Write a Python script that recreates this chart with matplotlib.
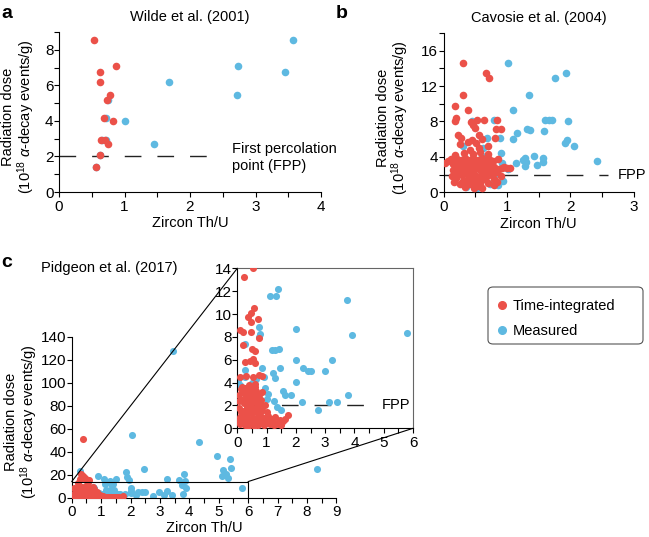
import matplotlib
matplotlib.use("Agg")
import matplotlib.pyplot as plt
from matplotlib.patches import ConnectionPatch, FancyBboxPatch
from matplotlib.lines import Line2D
from matplotlib.ticker import MultipleLocator

plt.rcParams['font.family'] = ['Liberation Sans', 'DejaVu Sans']
plt.rcParams['mathtext.fontset'] = 'custom'
plt.rcParams['mathtext.rm'] = 'Liberation Sans'
plt.rcParams['mathtext.it'] = 'Liberation Sans:italic'
plt.rcParams['font.size'] = 10.5

ROJO = '#EB5149'
AZUL = '#5EB9E1'

# Panel a - Wilde et al. (2001)
a_tiempo_x = [0.54, 0.87, 0.63, 0.63, 0.78, 0.74, 0.68, 0.83, 0.64, 0.70, 0.75, 0.62, 0.56]
a_tiempo_y = [8.57, 7.09, 6.76, 6.16, 5.46, 5.20, 4.15, 4.00, 2.94, 2.90, 2.71, 2.06, 1.40]
a_medido_x = [3.58, 2.73, 3.45, 1.68, 2.72, 0.75, 0.72, 1.01, 0.66, 0.72, 1.45, 0.62, 0.57]
a_medido_y = [8.57, 7.09, 6.76, 6.16, 5.46, 5.20, 4.15, 4.00, 2.94, 2.90, 2.71, 2.06, 1.40]

# Panel b - Cavosie et al. (2004)
b_tiempo_x = [0.30, 0.67, 0.72, 0.30, 0.18, 0.39, 0.19, 0.18, 0.52, 0.63, 0.84, 0.43, 0.47,
              0.50, 0.82, 0.905, 0.22, 0.27, 0.81, 0.55, 0.60, 0.45, 0.38, 0.25, 0.51, 0.02,
              0.07, 1.05, 1.00, 0.92, 0.70,
              0.12, 0.15, 0.14, 0.13, 0.16, 0.20, 0.22, 0.21, 0.23, 0.20, 0.25, 0.27, 0.28,
              0.30, 0.29, 0.31, 0.33, 0.34, 0.35, 0.36, 0.37, 0.38, 0.40, 0.41, 0.42, 0.44,
              0.43, 0.45, 0.47, 0.48, 0.50, 0.49, 0.51, 0.53, 0.54, 0.55, 0.57, 0.56, 0.58,
              0.60, 0.61, 0.63, 0.62, 0.64, 0.66, 0.67, 0.69, 0.68, 0.70, 0.72, 0.74, 0.75,
              0.76, 0.78, 0.80, 0.82, 0.79, 0.85, 0.84, 0.88, 0.18, 0.32, 0.46, 0.58, 0.70,
              0.42, 0.55, 0.30, 0.60, 0.48, 0.80, 0.90, 0.95]
b_tiempo_y = [14.56, 13.5, 12.97, 11.0, 9.74, 9.28, 8.4, 8.0, 8.2, 8.17, 8.2, 7.9, 7.6,
              7.3, 7.17, 7.17, 6.52, 6.14, 6.14, 6.5, 6.0, 5.9, 5.7, 5.5, 5.6, 3.3,
              3.5, 2.7, 2.7, 2.8, 5.2,
              3.8, 3.2, 2.5, 1.8, 1.2, 3.9, 3.4, 2.9, 2.2, 1.6, 0.9, 3.7, 3.0,
              2.5, 1.9, 1.3, 0.6, 3.9, 3.3, 2.8, 2.1, 1.5, 0.9, 3.6, 3.0, 2.4,
              1.8, 1.1, 3.9, 3.3, 2.7, 2.0, 1.4, 0.7, 3.7, 3.1, 2.5, 1.7, 1.0,
              3.9, 3.3, 2.8, 2.2, 1.5, 3.6, 3.0, 2.4, 1.8, 1.1, 3.8, 3.2, 2.6,
              2.0, 3.5, 2.9, 2.3, 1.5, 3.8, 1.2, 2.6, 4.2, 4.4, 4.3, 4.5, 4.3,
              4.8, 5.0, 2.2, 0.5, 0.5, 0.8, 1.8, 2.9]
b_medido_x = [1.01, 1.76, 1.93, 1.34, 1.09, 1.60, 1.66, 1.71, 1.97, 1.31, 1.37, 1.59, 1.16,
              1.10, 1.95, 1.92, 2.06, 2.42, 0.79, 0.89, 0.905, 1.14, 1.26, 1.29, 1.30, 1.29,
              1.43, 1.57, 1.57, 1.47, 0.73, 0.94, 0.52, 0.25, 0.35, 0.62, 0.68, 0.30, 0.60,
              0.80, 0.92, 1.02, 0.45, 0.85]
b_medido_y = [14.56, 12.97, 13.5, 11.0, 9.28, 8.22, 8.2, 8.2, 8.06, 7.1, 7.05, 6.96, 6.7,
              6.0, 5.9, 5.6, 5.27, 3.56, 8.2, 6.14, 4.4, 3.3, 3.67, 3.86, 3.48, 3.0,
              4.05, 3.86, 3.48, 3.1, 0.95, 1.28, 0.54, 2.9, 0.6, 5.0, 6.1, 5.2, 4.1,
              2.0, 3.3, 2.6, 8.0, 0.8]

# Panel c - Pidgeon et al. (2017)
c_tiempo_x = [0.55, 0.23, 0.56, 0.47, 0.35, 0.47, 0.72, 0.09, 0.18, 0.47, 0.75, 0.20, 0.50,
              0.60, 0.25, 0.45, 0.60, 0.52, 0.10, 0.30, 0.55, 0.75, 0.85,
              0.05, 0.08, 0.10, 0.12, 0.15, 0.18, 0.20, 0.22, 0.24, 0.26, 0.28, 0.30, 0.32,
              0.33, 0.35, 0.37, 0.38, 0.40, 0.42, 0.44, 0.46, 0.47, 0.48, 0.50, 0.52, 0.53,
              0.55, 0.57, 0.58, 0.60, 0.62, 0.63, 0.65, 0.67, 0.68, 0.70, 0.72, 0.74, 0.76,
              0.78, 0.80, 0.82, 0.85, 0.88, 0.90, 0.03, 0.07, 0.14, 0.42, 0.60,
              0.95, 1.00, 1.05, 1.10, 1.20, 1.25, 1.30, 1.35, 1.45, 1.50, 1.55, 1.74, 1.00, 0.95,
              0.16, 0.26, 0.36, 0.46, 0.56, 0.66, 0.76, 0.86, 0.12, 0.22, 0.32, 0.42, 0.52,
              0.62, 0.72, 0.82, 0.06, 0.16, 0.26, 0.36, 0.46, 0.56, 0.66, 0.76, 0.30, 0.50,
              0.70, 0.40, 0.60, 0.85, 0.15, 1.15, 1.40, 1.62,
              0.40, 0.32, 0.38, 0.45, 0.50, 0.28, 0.60]
c_tiempo_y = [14.0, 13.2, 10.5, 10.06, 9.7, 9.3, 9.6, 8.6, 8.4, 8.4, 7.9, 7.3, 6.9,
              6.8, 5.8, 5.9, 5.7, 6.1, 4.5, 4.6, 4.5, 4.7, 4.6,
              1.8, 1.0, 0.4, 2.5, 1.5, 0.8, 3.2, 2.2, 1.2, 0.3, 3.5, 2.8, 1.9,
              1.0, 0.2, 3.3, 2.5, 1.6, 0.7, 3.0, 2.1, 1.3, 0.4, 3.4, 2.6, 1.8,
              0.9, 0.2, 3.1, 2.3, 1.5, 0.6, 3.3, 2.7, 1.9, 1.1, 0.3, 2.9, 2.1,
              1.3, 0.6, 2.5, 1.6, 0.9, 0.3, 0.6, 2.9, 3.4, 3.6, 3.6,
              0.9, 0.5, 1.1, 0.4, 0.8, 0.3, 1.0, 0.5, 0.7, 0.3, 0.6, 1.16, 1.4, 2.0,
              0.6, 0.5, 0.6, 0.5, 0.6, 0.5, 0.6, 0.5, 1.4, 1.5, 1.4, 1.5, 1.4,
              1.5, 1.4, 1.5, 2.4, 2.5, 2.4, 2.5, 2.4, 2.5, 2.4, 2.5, 3.0, 3.0,
              3.0, 3.8, 3.9, 3.2, 3.6, 0.6, 0.4, 0.8,
              50.7, 21.0, 19.0, 17.0, 15.5, 16.0, 15.0]
c_medido_x = [1.40, 1.13, 1.32, 3.75, 5.78, 3.90, 2.00, 1.17, 1.30, 1.43, 2.00, 3.24, 2.26,
              2.40, 2.50, 2.98, 1.45, 1.23, 1.30, 2.00, 1.57, 1.82, 3.79, 0.73, 0.77, 0.75,
              0.26, 0.83, 0.92, 0.27, 0.27, 0.03, 1.34, 1.48, 1.00, 1.25, 2.77, 3.14, 3.41,
              2.20, 1.64, 0.10, 0.95, 1.05, 0.50, 0.65,
              3.43, 2.06, 4.33, 4.93, 5.38, 5.42, 5.15, 5.25, 5.10, 5.30, 8.35, 0.28, 0.90,
              1.10, 1.30, 1.50, 1.85, 1.87, 1.95, 2.46, 3.23, 3.82, 3.65, 3.85]
c_medido_y = [12.2, 11.6, 11.6, 11.2, 8.3, 8.15, 8.7, 6.85, 6.85, 6.9, 6.0, 6.0, 5.3,
              5.0, 5.0, 5.0, 5.3, 4.8, 4.4, 4.08, 3.26, 2.9, 2.9, 8.9, 8.25, 8.0,
              7.4, 5.3, 4.5, 5.1, 4.5, 4.2, 1.9, 1.6, 2.6, 2.4, 1.6, 2.33, 2.33,
              2.3, 2.9, 3.8, 3.5, 3.0, 4.0, 4.3,
              127.8, 54.5, 48.7, 36.3, 33.3, 26.0, 24.0, 21.0, 18.5, 17.0, 24.7, 23.0, 18.9,
              16.0, 14.5, 16.3, 22.0, 18.3, 15.0, 25.0, 16.0, 20.3, 15.5, 14.5]

FPP = 2
TAM = 30
TAM_C = 26

fig = plt.figure(figsize=(6.49, 5.37), dpi=100)


def estilo(ax, con_marco=False):
    if not con_marco:
        for lado in ['top', 'right']:
            ax.spines[lado].set_visible(False)
    for lado in ax.spines:
        ax.spines[lado].set_linewidth(0.8)
    ax.tick_params(which='both', direction='out', length=3.5, width=0.8, labelsize=11)
    ax.tick_params(axis='y', which='both', pad=0.5)
    ax.tick_params(axis='x', which='both', pad=2)


etiqueta_y = 'Radiation dose\n(10$^{18}$ $\\alpha$-decay events/g)'

# ---- a ----
ax_a = fig.add_axes([59/649, 1-192/537, 262/649, 160/537])
estilo(ax_a)
ax_a.scatter(a_medido_x, a_medido_y, s=TAM, color=AZUL, linewidths=0, zorder=2)
ax_a.scatter(a_tiempo_x, a_tiempo_y, s=TAM, color=ROJO, linewidths=0, zorder=3)
ax_a.plot([0, 2.28], [FPP, FPP], color='#222222', lw=1, linestyle=(0, (12, 11.5)), zorder=1)
ax_a.text(2.64, 1.95, 'First percolation\npoint (FPP)', ha='left', va='center',
          fontsize=10.5, linespacing=1.25, clip_on=False)
ax_a.set_xlim(0, 4)
ax_a.set_ylim(0, 9)
ax_a.xaxis.set_major_locator(MultipleLocator(1))
ax_a.xaxis.set_minor_locator(MultipleLocator(0.5))
ax_a.yaxis.set_major_locator(MultipleLocator(2))
ax_a.yaxis.set_minor_locator(MultipleLocator(1))
ax_a.set_xlabel('Zircon Th/U', fontsize=10.5, labelpad=2)
ax_a.set_ylabel(etiqueta_y, fontsize=10.5, linespacing=1.0)
ax_a.yaxis.set_label_coords(-0.085, 0.47)
ax_a.set_title('Wilde et al. (2001)', fontsize=10.5, pad=8)
fig.text(0.002, 0.99, 'a', fontsize=14, fontweight='bold', va='top')

# ---- b ----
ax_b = fig.add_axes([443.7/649, 1-192.3/537, 189.9/649, 159.3/537])
estilo(ax_b)
ax_b.scatter(b_medido_x, b_medido_y, s=TAM, color=AZUL, linewidths=0, zorder=2)
ax_b.scatter(b_tiempo_x, b_tiempo_y, s=TAM, color=ROJO, linewidths=0, zorder=3)
ax_b.plot([0, 2.6], [FPP, FPP], color='#222222', lw=1, linestyle=(6, (12, 11.5)), zorder=1)
ax_b.text(2.75, FPP, 'FPP', ha='left', va='center', fontsize=10.5, clip_on=False)
ax_b.set_xlim(0, 3)
ax_b.set_ylim(0, 18)
ax_b.xaxis.set_major_locator(MultipleLocator(1))
ax_b.xaxis.set_minor_locator(MultipleLocator(0.5))
ax_b.yaxis.set_major_locator(MultipleLocator(4))
ax_b.yaxis.set_minor_locator(MultipleLocator(2))
ax_b.set_xlabel('Zircon Th/U', fontsize=10.5, labelpad=2)
ax_b.set_ylabel(etiqueta_y, fontsize=10.5, linespacing=1.0)
ax_b.yaxis.set_label_coords(-0.17, 0.47)
ax_b.set_title('Cavosie et al. (2004)', fontsize=10.5, pad=8)
fig.text(0.518, 0.99, 'b', fontsize=14, fontweight='bold', va='top')

# ---- c ----
ax_c = fig.add_axes([71.7/649, 1-497.7/537, 264.6/649, 161/537])
estilo(ax_c)
ax_c.scatter(c_medido_x, c_medido_y, s=TAM_C, color=AZUL, linewidths=0, zorder=2)
ax_c.scatter(c_tiempo_x, c_tiempo_y, s=TAM_C, color=ROJO, linewidths=0, zorder=3)
ax_c.plot([0, 6, 6], [14, 14, 0], color='k', lw=0.8, zorder=4, clip_on=False)
ax_c.set_xlim(0, 9)
ax_c.set_ylim(0, 140)
ax_c.xaxis.set_major_locator(MultipleLocator(1))
ax_c.xaxis.set_minor_locator(MultipleLocator(0.5))
ax_c.yaxis.set_major_locator(MultipleLocator(20))
ax_c.set_xlabel('Zircon Th/U', fontsize=10.5, labelpad=1)
ax_c.set_ylabel(etiqueta_y, fontsize=10.5, linespacing=1.0)
ax_c.yaxis.set_label_coords(-0.12, 0.47)
fig.text(41/649, 1-268/537, 'Pidgeon et al. (2017)', fontsize=10.5, va='center', ha='left')
fig.text(0.002, 1-254/537, 'c', fontsize=14, fontweight='bold', va='top')

# recuadro ampliado
ax_i = fig.add_axes([237.3/649, 1-428.3/537, 175.7/649, 160/537])
estilo(ax_i, con_marco=True)
ax_i.spines['top'].set_color('#666666')
ax_i.spines['right'].set_color('#666666')
ax_i.scatter(c_medido_x, c_medido_y, s=TAM_C, color=AZUL, linewidths=0, zorder=2)
ax_i.scatter(c_tiempo_x, c_tiempo_y, s=TAM_C, color=ROJO, linewidths=0, zorder=3)
ax_i.plot([0, 4.75], [FPP, FPP], color='#222222', lw=1, linestyle=(15, (12, 11.5)), zorder=1)
ax_i.text(4.92, FPP, 'FPP', ha='left', va='center', fontsize=10.5)
ax_i.set_xlim(0, 6)
ax_i.set_ylim(0, 14)
ax_i.xaxis.set_major_locator(MultipleLocator(1))
ax_i.xaxis.set_minor_locator(MultipleLocator(0.5))
ax_i.yaxis.set_major_locator(MultipleLocator(2))

for xy_a, xy_b in [((0, 14), (0, 14)), ((6, 14), (6, 0))]:
    con = ConnectionPatch(xyA=xy_a, coordsA=ax_c.transData, xyB=xy_b, coordsB=ax_i.transData,
                          color='k', lw=0.8)
    fig.add_artist(con)

# leyenda
marco = FancyBboxPatch((488/649, 1-344/537), 155/649, 57/537, transform=fig.transFigure,
                       boxstyle='round,pad=0,rounding_size=0.008', facecolor='white',
                       edgecolor='#555555', linewidth=0.8)
fig.add_artist(marco)
manejadores = [
    Line2D([], [], marker='o', linestyle='none', color=ROJO, markersize=5.5, label='Time-integrated'),
    Line2D([], [], marker='o', linestyle='none', color=AZUL, markersize=5.5, label='Measured'),
]
ley = fig.legend(handles=manejadores, loc='center left', bbox_to_anchor=(496.5/649, 1-318.5/537),
                 fontsize=10.5, frameon=False, handletextpad=0.3, borderpad=0,
                 handlelength=0.8, labelspacing=0.75, borderaxespad=0)

fig.savefig('out.png', dpi=100)
